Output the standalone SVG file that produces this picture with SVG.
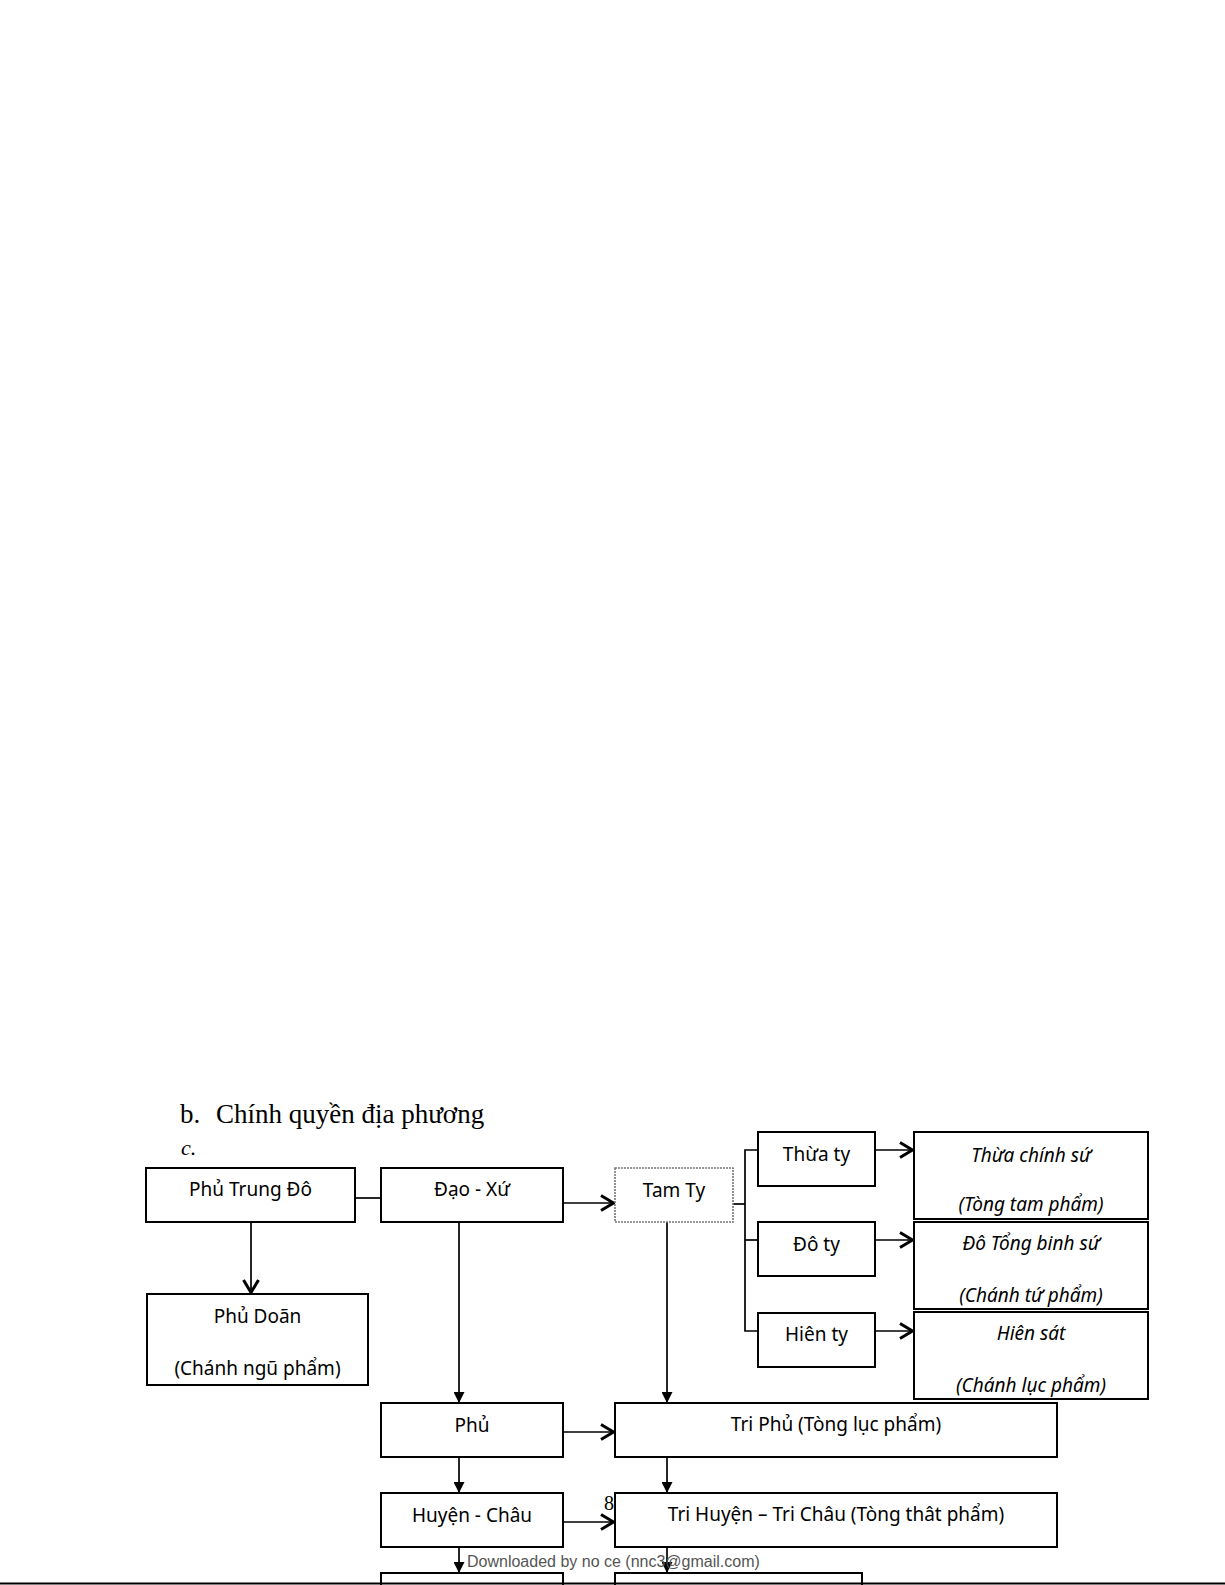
<svg xmlns="http://www.w3.org/2000/svg" width="1225" height="1585" viewBox="0 0 1225 1585">
<defs>
<marker id="open" markerUnits="userSpaceOnUse" viewBox="0 0 16 18" refX="14.5" refY="9" markerWidth="16" markerHeight="18" orient="auto"><path d="M1.5,1.5 L14,9 L1.5,16.5" fill="none" stroke="#000" stroke-width="3"/></marker>
<marker id="tri" markerUnits="userSpaceOnUse" viewBox="0 0 11 11" refX="11" refY="5.5" markerWidth="11" markerHeight="11" orient="auto"><path d="M0,0 L11,5.5 L0,11 z" fill="#000"/></marker>
<style>
.box{fill:#fff;stroke:#000;stroke-width:2}
.dash{fill:#fff;stroke:#777;stroke-width:1.6;stroke-dasharray:2 1}
.t{font-family:"Noto Sans","DejaVu Sans",sans-serif;font-size:19px;fill:#000;text-anchor:middle}
.i{font-style:italic}
.c{fill:none;stroke:#000;stroke-width:1.7}
.ser{font-family:"Liberation Serif","Times New Roman",serif;fill:#000}
</style>
</defs>
<rect width="1225" height="1585" fill="#fff"/>
<text class="ser" x="180" y="1123" font-size="27">b.</text>
<text class="ser" x="216" y="1123" font-size="27">Chính quyền địa phương</text>
<text class="ser" x="181" y="1155" font-size="22" font-style="italic">c.</text>

<g id="connectors">
<line class="c" x1="355" y1="1198" x2="381" y2="1198"/>
<line class="c" x1="251" y1="1222" x2="251" y2="1293" marker-end="url(#open)"/>
<line class="c" x1="563" y1="1203" x2="614" y2="1203" marker-end="url(#open)"/>
<line class="c" x1="733" y1="1204" x2="745" y2="1204"/>
<polyline class="c" points="758,1150 745,1150 745,1331 758,1331"/>
<line class="c" x1="745" y1="1240" x2="758" y2="1240"/>
<line class="c" x1="875" y1="1150" x2="913" y2="1150" marker-end="url(#open)"/>
<line class="c" x1="875" y1="1240" x2="913" y2="1240" marker-end="url(#open)"/>
<line class="c" x1="875" y1="1331" x2="913" y2="1331" marker-end="url(#open)"/>
<line class="c" x1="459" y1="1222" x2="459" y2="1403" marker-end="url(#tri)"/>
<line class="c" x1="667" y1="1222" x2="667" y2="1403" marker-end="url(#tri)"/>
<line class="c" x1="563" y1="1432" x2="614" y2="1432" marker-end="url(#open)"/>
<line class="c" x1="563" y1="1522" x2="614" y2="1522" marker-end="url(#open)"/>
<line class="c" x1="459" y1="1457" x2="459" y2="1493" marker-end="url(#tri)"/>
<line class="c" x1="667" y1="1457" x2="667" y2="1493" marker-end="url(#tri)"/>
<line class="c" x1="459" y1="1547" x2="459" y2="1573" marker-end="url(#tri)"/>
<line class="c" x1="667" y1="1547" x2="667" y2="1573" marker-end="url(#tri)"/>
</g>

<g id="phu-trung-do"><rect class="box" x="146" y="1168" width="209" height="54"/><text class="t" x="250.5" y="1196">Phủ Trung Đô</text></g>
<g id="dao-xu"><rect class="box" x="381" y="1168" width="182" height="54"/><text class="t" x="472" y="1196">Đạo - Xứ</text></g>
<g id="tam-ty"><rect class="dash" x="615" y="1168" width="118" height="54"/><text class="t" x="674" y="1197">Tam Ty</text></g>
<g id="thua-ty"><rect class="box" x="758" y="1132" width="117" height="54"/><text class="t" x="816.5" y="1161">Thừa ty</text></g>
<g id="do-ty"><rect class="box" x="758" y="1222" width="117" height="54"/><text class="t" x="816.5" y="1251">Đô ty</text></g>
<g id="hien-ty"><rect class="box" x="758" y="1313" width="117" height="54"/><text class="t" x="816.5" y="1341">Hiên ty</text></g>
<g id="thua-chinh-su"><rect class="box" x="914" y="1132" width="234" height="87"/><text class="t i" x="1031" y="1162">Thừa chính sứ</text><text class="t i" x="1031" y="1211">(Tòng tam phẩm)</text></g>
<g id="do-tong-binh-su"><rect class="box" x="914" y="1222" width="234" height="87"/><text class="t i" x="1031" y="1250">Đô Tổng binh sứ</text><text class="t i" x="1031" y="1302">(Chánh tứ phẩm)</text></g>
<g id="hien-sat"><rect class="box" x="914" y="1312" width="234" height="87"/><text class="t i" x="1031" y="1340">Hiên sát</text><text class="t i" x="1031" y="1392">(Chánh lục phẩm)</text></g>
<g id="phu-doan"><rect class="box" x="147" y="1294" width="221" height="91"/><text class="t" x="257.5" y="1323">Phủ Doãn</text><text class="t" x="257.5" y="1375">(Chánh ngũ phẩm)</text></g>
<g id="phu"><rect class="box" x="381" y="1403" width="182" height="54"/><text class="t" x="472" y="1432">Phủ</text></g>
<g id="tri-phu"><rect class="box" x="615" y="1403" width="442" height="54"/><text class="t" x="836" y="1431">Tri Phủ (Tòng lục phẩm)</text></g>
<g id="huyen-chau"><rect class="box" x="381" y="1493" width="182" height="54"/><text class="t" x="472" y="1522">Huyện - Châu</text></g>
<g id="tri-huyen"><rect class="box" x="615" y="1493" width="442" height="54"/><text class="t" x="836" y="1521">Tri Huyện – Tri Châu (Tòng thât phẩm)</text></g>
<g id="bottom-left"><rect class="box" x="381" y="1573" width="182" height="40"/></g>
<g id="bottom-right"><rect class="box" x="615" y="1573" width="247" height="40"/></g>
<text class="ser" x="604" y="1510" font-size="20">8</text>
<text x="467" y="1567" font-family="Liberation Sans, Arial, sans-serif" font-size="16" fill="#555">Downloaded by no ce (nnc3@gmail.com)</text>
<line x1="0" y1="1583.5" x2="1225" y2="1583.5" stroke="#000" stroke-width="2"/>
</svg>
